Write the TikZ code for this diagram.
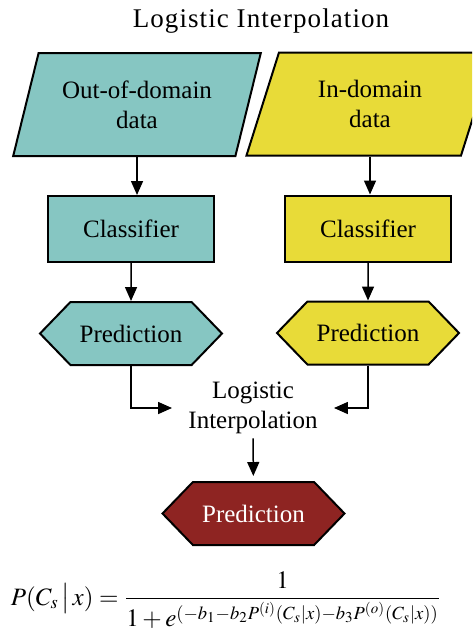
\documentclass[tikz,border=0pt]{standalone}
\usepackage{mathptmx}
\usepackage[no-math]{fontspec}
\setmainfont{Liberation Serif}
\usetikzlibrary{positioning, arrows.meta, shapes.geometric, shapes.symbols}
\definecolor{ooddata}{RGB}{134,198,194}
\definecolor{inddata}{RGB}{232,219,56}
\definecolor{finalpred}{RGB}{142,36,34}

\begin{document}
\begin{tikzpicture}[x=0.5pt, y=-0.5pt, node distance=19pt,
    every node/.style={font=\fontsize{12.5}{15}\selectfont},
    data/.style={trapezium, trapezium left angle=71, trapezium right angle=109, trapezium stretches=true, draw, line width=1pt, minimum width=124pt, minimum height=51.5pt, align=center},
    box/.style={rectangle, draw, line width=1pt, minimum width=83pt, minimum height=33pt},
    pred/.style={signal, signal to=east and west, signal pointer angle=92, draw, line width=1pt, minimum width=91pt, minimum height=31.5pt},
    arrow/.style={-{Triangle[length=7pt, width=6pt]}, line width=0.75pt}]

  \clip (0,0) rectangle (472,637);

  \node[font=\fontsize{13.5}{16}\selectfont\addfontfeature{LetterSpace=4}] (title) at (261,21) {Logistic Interpolation};
  \node[data, fill=ooddata] (ood) at (137,104.5) {Out-of-domain\\data};
  \node[data, fill=inddata] (ind) at (370,104) {In-domain\\data};
  \node[box, fill=ooddata, below=of ood, xshift=-3pt] (oodcls) {Classifier};
  \node[box, fill=inddata, below=of ind, xshift=-1pt] (indcls) {Classifier};
  \node[pred, fill=ooddata, below=of oodcls] (oodpred) {Prediction};
  \node[pred, fill=inddata, below=of indcls] (indpred) {Prediction};
  \node[inner xsep=8pt, inner ysep=2pt, align=center] (logit) at (253,408) {Logistic\\Interpolation};
  \node[pred, fill=finalpred, text=white] (final) at (253.5,513.5) {Prediction};
  \node[font=\fontsize{12.5}{15}\selectfont] (formula) at (226,600)
    {$\displaystyle P(C_s\,\big|\,x)=\frac{1}{1+e^{(-b_1-b_2P^{(i)}(C_s|x)-b_3P^{(o)}(C_s|x))}}$};

  \draw[arrow] (ood.south) -- (ood.south |- oodcls.north);
  \draw[arrow] (ind.south) -- (ind.south |- indcls.north);
  \draw[arrow] (oodcls) -- (oodpred);
  \draw[arrow] (indcls) -- (indpred);
  \draw[arrow] (oodpred) |- (logit);
  \draw[arrow] (indpred) |- (logit);
  \draw[arrow, shorten >=2.5pt] (logit) -- (final);
\end{tikzpicture}
\end{document}
